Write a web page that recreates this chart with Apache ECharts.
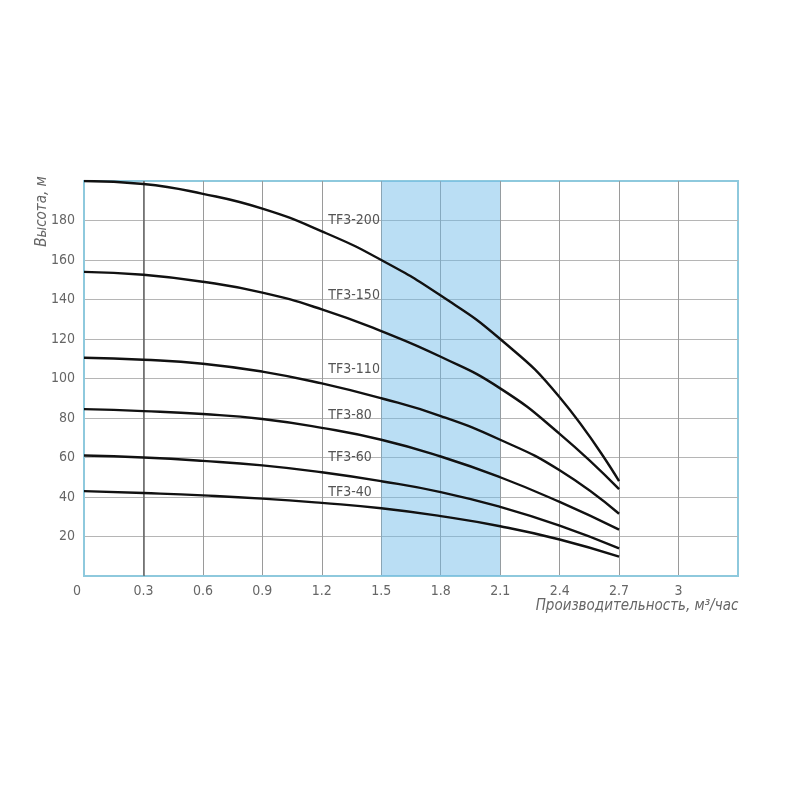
<!DOCTYPE html>
<html><head><meta charset="utf-8">
<script src="https://cdn.jsdelivr.net/npm/echarts@6/dist/echarts.min.js"></script>
<style>html,body{margin:0;padding:0;background:#fff}#c{width:800px;height:800px}</style>
</head><body><div id="c"></div>
<script>
const flow = [0, 0.3, 0.6, 0.9, 1.2, 1.5, 1.8, 2.1, 2.4, 2.7];
const seriesNames = ['TF3-200', 'TF3-150', 'TF3-110', 'TF3-80', 'TF3-60', 'TF3-40'];
const headTF3_200 = [200, 198.5, 193.5, 186, 174.5, 160, 142, 120, 90.5, 48];
const headTF3_150 = [154, 152.5, 149, 143.5, 135, 124, 111, 95, 72, 44];
const headTF3_110 = [110.5, 109.5, 107.5, 103.5, 97.5, 90, 81, 69, 53.5, 31.5];
const headTF3_80 = [84.5, 83.5, 82, 79.5, 75, 69, 60.5, 50, 37.5, 23.5];
const headTF3_60 = [61, 60, 58.3, 56, 52.5, 48, 42.5, 35, 25.5, 14];
const headTF3_40 = [43, 42, 40.8, 39.2, 37, 34.3, 30.3, 25.2, 18.5, 9.8];
const heads = [headTF3_200, headTF3_150, headTF3_110, headTF3_80, headTF3_60, headTF3_40];
const labelFlow = 1.233;
const labelHead = [180, 142.3, 104.7, 81.3, 60, 42.2];
const bandRange = [1.5, 2.1];
const xName = 'Производительность, м³/час';
const yName = 'Высота, м';

const font = "'Liberation Sans Narrow', 'DejaVu Sans Condensed', 'Noto Sans', sans-serif";
const blue = '#8ec9dd';

const series = seriesNames.map((name, i) => ({
  name, type: 'line', smooth: 0.5, showSymbol: false, symbol: 'none',
  data: flow.map((x, j) => [x, heads[i][j]]),
  lineStyle: { color: '#111', width: 2.4 },
  z: 5,
  markPoint: {
    symbol: 'rect', symbolSize: 0, silent: true,
    data: [{ coord: [labelFlow, labelHead[i]] }],
    label: { show: true, position: 'right', distance: 0, formatter: name,
      color: '#555', fontSize: 14, fontFamily: font }
  }
}));
series.push({
  name: 'band', type: 'line', data: [], z: 1,
  markArea: { silent: true, itemStyle: { color: 'rgba(110,187,233,0.48)' },
    data: [[{ xAxis: bandRange[0] }, { xAxis: bandRange[1] }]] }
});
series.push({
  name: 'ref', type: 'line', data: [], z: 1,
  markLine: { silent: true, symbol: 'none', label: { show: false },
    lineStyle: { color: '#666', width: 1.5, type: 'solid' },
    data: [{ xAxis: 0.3 }] }
});

const chart = echarts.init(document.getElementById('c'));
chart.setOption({
  animation: false,
  grid: { left: 84, right: 62, top: 181, bottom: 224, show: true, borderColor: blue, borderWidth: 2,
    containLabel: false, outerBoundsMode: 'none' },
  xAxis: {
    type: 'value', min: 0, max: 3.3, interval: 0.3,
    name: xName, nameLocation: 'middle', nameGap: 23, nameMoveOverlap: false,
    nameTextStyle: { padding: [0, 0, 0, 452],
      fontStyle: 'italic', fontSize: 15, color: '#666', fontFamily: font },
    axisLine: { show: true, lineStyle: { color: blue, width: 2 } },
    axisTick: { show: false },
    splitLine: { show: true, showMinLine: false, showMaxLine: false, lineStyle: { color: '#9a9a9a', width: 1 } },
    axisLabel: { showMaxLabel: false, margin: 8, color: '#666', fontSize: 14, fontFamily: font,
      formatter: v => { const s = String(Math.round(v * 10) / 10); return v === 0 ? '{z|' + s + '}' : s; },
      rich: { z: { padding: [0, 14, 0, 0], color: '#666', fontSize: 14, fontFamily: font } } }
  },
  yAxis: {
    type: 'value', min: 0, max: 200, interval: 20,
    name: yName, nameLocation: 'middle', nameGap: 34, nameRotate: 90, nameMoveOverlap: false,
    nameTextStyle: { fontStyle: 'italic', fontSize: 15, color: '#666', fontFamily: font, padding: [0, 0, 0, 334] },
    axisLine: { show: true, lineStyle: { color: blue, width: 2 } },
    axisTick: { show: false },
    splitLine: { show: true, showMinLine: false, showMaxLine: false, lineStyle: { color: '#b5b5b5', width: 1 } },
    axisLabel: { showMinLabel: false, showMaxLabel: false, margin: 9, color: '#666', fontSize: 14, fontFamily: font }
  },
  series
});
</script></body></html>
